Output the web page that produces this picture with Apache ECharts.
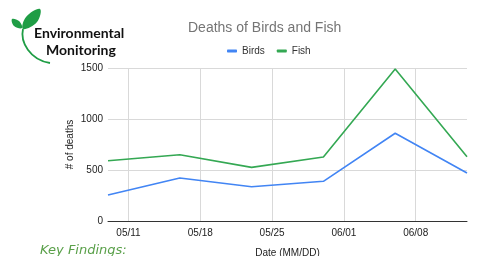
<!DOCTYPE html>
<html>
<head>
<meta charset="utf-8">
<script src="https://cdn.jsdelivr.net/npm/echarts@6/dist/echarts.min.js"></script>
<style>
  html, body { margin: 0; padding: 0; background: #fff; }
  #chart { width: 478px; height: 256px; }
</style>
</head>
<body>
<div id="chart"></div>
<script>
// data
const dates = ['2020-05-09', '2020-05-16', '2020-05-23', '2020-05-30', '2020-06-06', '2020-06-13'];
const birds = [255, 421, 336, 389, 860, 470];
const fish = [591, 650, 526, 627, 1490, 630];
const tickDates = ['2020-05-11', '2020-05-18', '2020-05-25', '2020-06-01', '2020-06-08'];

const ts = d => new Date(d + 'T00:00:00').getTime();

const chart = echarts.init(document.getElementById('chart'));

const option = {
  animation: false,
  textStyle: { fontFamily: 'Arial, "Liberation Sans", sans-serif' },
  title: {
    text: 'Deaths of Birds and Fish',
    left: 183,
    top: 16,
    textStyle: { color: '#757575', fontSize: 14, fontWeight: 'normal', fontFamily: 'Arial, "Liberation Sans", sans-serif' }
  },
  legend: {
    data: ['Birds', 'Fish'],
    left: 222,
    top: 41,
    itemWidth: 10,
    itemHeight: 3,
    itemGap: 12,
    icon: 'roundRect',
    textStyle: { color: '#333', fontSize: 10 }
  },
  grid: {
    left: 108,
    right: 11,
    top: 68,
    bottom: 35,
    outerBoundsMode: 'none'
  },
  xAxis: {
    type: 'time',
    min: ts(dates[0]),
    max: ts(dates[dates.length - 1]),
    name: 'Date (MM/DD)',
    nameLocation: 'middle',
    nameGap: 27,
    nameMoveOverlap: false,
    nameTextStyle: { color: '#222', fontSize: 10 },
    axisLine: { lineStyle: { color: '#333' } },
    axisTick: { show: false, customValues: tickDates.map(ts) },
    axisLabel: {
      customValues: tickDates.map(ts),
      formatter: '{MM}/{dd}',
      color: '#222',
      fontSize: 10,
      margin: 7
    },
    splitLine: { show: true, lineStyle: { color: '#d9d9d9' } }
  },
  yAxis: {
    type: 'value',
    min: 0,
    max: 1500,
    interval: 500,
    name: '# of deaths',
    nameLocation: 'middle',
    nameGap: 33,
    nameMoveOverlap: false,
    nameRotate: 90,
    nameTextStyle: { color: '#222', fontSize: 10 },
    axisLine: { show: false },
    axisTick: { show: false },
    axisLabel: { color: '#222', fontSize: 10, margin: 5, formatter: v => String(v) },
    splitLine: { lineStyle: { color: '#d9d9d9' } }
  },
  series: [
    {
      name: 'Birds',
      type: 'line',
      data: dates.map((d, i) => [ts(d), birds[i]]),
      showSymbol: false,
      lineStyle: { width: 1.6, color: '#4285f4' },
      itemStyle: { color: '#4285f4' }
    },
    {
      name: 'Fish',
      type: 'line',
      data: dates.map((d, i) => [ts(d), fish[i]]),
      showSymbol: false,
      lineStyle: { width: 1.6, color: '#34a853' },
      itemStyle: { color: '#34a853' }
    }
  ],
  graphic: [
    // logo: arc and leaves
    {
      type: 'bezierCurve',
      shape: { x1: 23, y1: 29, cpx1: 20, cpy1: 42, cpx2: 30, cpy2: 60, x2: 50, y2: 63 },
      style: { fill: null, stroke: '#1f9d45', lineWidth: 1.8 }
    },
    {
      type: 'polygon',
      shape: { points: [[23, 29], [26, 17], [40, 9], [37, 22]], smooth: 0.4 },
      style: { fill: '#1f9d45' }
    },
    {
      type: 'polygon',
      shape: { points: [[22, 28], [14, 26], [12, 19], [19, 21]], smooth: 0.4 },
      style: { fill: '#1f9d45' }
    },
    {
      type: 'text',
      left: 34,
      top: 26,
      style: { text: 'Environmental', fill: '#111', font: 'bold 14px Lato, "Open Sans", sans-serif' }
    },
    {
      type: 'text',
      left: 46,
      top: 43,
      style: { text: 'Monitoring', fill: '#111', font: 'bold 14px Lato, "Open Sans", sans-serif' }
    },
    {
      type: 'text',
      left: 40,
      top: 244,
      style: { text: 'Key Findings:', fill: '#5aa04a', font: 'italic 13px "DejaVu Sans", sans-serif' }
    }
  ]
};

chart.setOption(option);
</script>
</body>
</html>
